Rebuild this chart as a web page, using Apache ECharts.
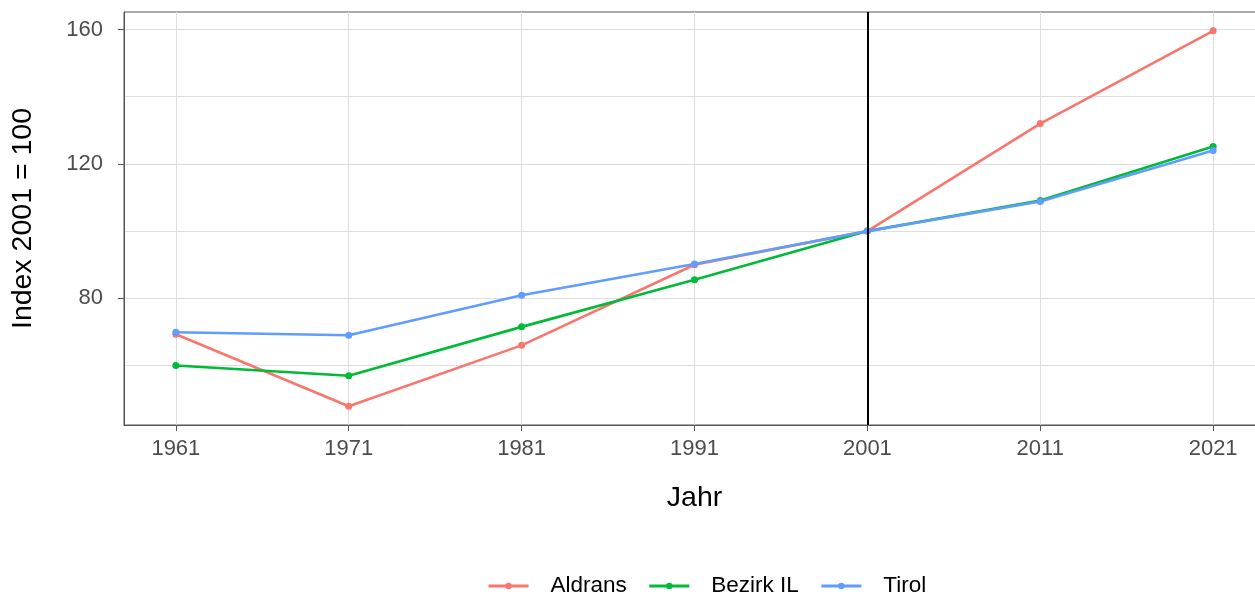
<!DOCTYPE html>
<html><head><meta charset="utf-8">
<script src="https://cdn.jsdelivr.net/npm/echarts@6/dist/echarts.min.js"></script>
<style>html,body{margin:0;padding:0;background:#fff}#c{width:1255px;height:596px}</style>
</head><body><div id="c"></div>
<script>
const years = [1961, 1971, 1981, 1991, 2001, 2011, 2021];
const aldrans = [69.3, 47.9, 66.0, 90.0, 100, 132.0, 159.6];
const bezirkIL = [60.0, 56.95, 71.5, 85.55, 100, 109.1, 125.2];
const tirol = [69.9, 69.0, 80.9, 90.2, 100, 108.8, 124.0];
const yTickLabels = [80, 120, 160];
const yGridValues = [60, 80, 100, 120, 140, 160];
const refYear = 2001;

const font = 'Liberation Sans, Arial, sans-serif';
const chart = echarts.init(document.getElementById('c'), null, {renderer: 'canvas'});
function mk(name, vals, color) {
  return {
    name, type: 'line', data: years.map((y, i) => [y, vals[i]]),
    symbol: 'circle', symbolSize: 7, showSymbol: true,
    lineStyle: {width: 2.6, color}, itemStyle: {color}, z: 3, animation: false
  };
}
const series = [
  mk('Aldrans', aldrans, '#F8766D'),
  mk('Bezirk IL', bezirkIL, '#00BA38'),
  mk('Tirol', tirol, '#619CFF')
];
series[0].markLine = {
  silent: true, symbol: ['none', 'none'], label: {show: false},
  lineStyle: {color: '#000', width: 2, type: 'solid'},
  data: [{xAxis: refYear}], animation: false
};
chart.setOption({
  animation: false,
  grid: {left: 124, top: 12, width: 1141, height: 413, show: true, borderColor: '#555', borderWidth: 1, containLabel: false, outerBoundsMode: 'none'},
  legend: {
    top: 572, left: 487, itemWidth: 40, itemHeight: 8, itemGap: 21, padding: 0,
    lineStyle: {width: 3},
    textStyle: {fontFamily: font, fontSize: 22.5, lineHeight: 28, color: '#000', padding: [0, 0, 0, 17]},
    data: ['Aldrans', 'Bezirk IL', 'Tirol']
  },
  xAxis: [{
    type: 'value', min: 1958, max: 2024,
    name: 'Jahr', nameLocation: 'middle', nameGap: 59,
    nameTextStyle: {fontFamily: font, fontSize: 28.5, color: '#000'},
    axisLine: {show: true, onZero: false, lineStyle: {color: '#555', width: 1}},
    axisTick: {show: true, length: 6, lineStyle: {color: '#555'}, customValues: years},
    axisLabel: {fontFamily: font, fontSize: 22, color: '#4D4D4D', margin: 13, customValues: years, formatter: v => String(v)},
    splitLine: {show: true, lineStyle: {color: '#DEDEDE', width: 1}}
  }],
  yAxis: [{
    type: 'value', min: 42.3, max: 165.2,
    name: 'Index 2001 = 100', nameLocation: 'middle', nameGap: 86, nameRotate: 90,
    nameTextStyle: {fontFamily: font, fontSize: 28.5, color: '#000'},
    axisLine: {show: true, onZero: false, lineStyle: {color: '#555', width: 1}},
    axisTick: {show: true, length: 6, lineStyle: {color: '#555'}, customValues: yTickLabels},
    axisLabel: {fontFamily: font, fontSize: 22, color: '#4D4D4D', margin: 21, customValues: yTickLabels},
    splitLine: {show: false}
  }, {
    type: 'value', min: 42.3, max: 165.2, position: 'left',
    axisLine: {show: false}, axisLabel: {show: false},
    axisTick: {show: false, customValues: yGridValues},
    splitLine: {show: true, lineStyle: {color: '#DEDEDE', width: 1}}
  }],
  series
});
</script></body></html>
